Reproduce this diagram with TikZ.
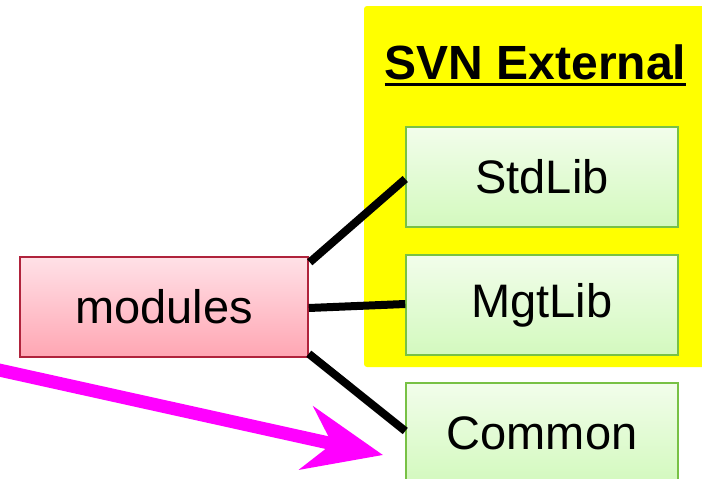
\documentclass[tikz,border=0pt]{standalone}
\usepackage{fontspec}
\setmainfont{Liberation Sans}
\usetikzlibrary{arrows.meta,calc}
\definecolor{extyellow}{HTML}{FFFF00}
\definecolor{libtop}{HTML}{F2FDEB}
\definecolor{libbottom}{HTML}{D3F9BE}
\definecolor{libborder}{HTML}{78C145}
\definecolor{modtop}{HTML}{FFE1E7}
\definecolor{modbottom}{HTML}{FFA6B3}
\definecolor{modborder}{HTML}{B0233C}
\definecolor{pointer}{HTML}{FF00FF}
\tikzset{
  box/.style={rectangle, minimum width=272pt, minimum height=100pt, inner sep=0pt,
    line width=1.5pt, font=\fontsize{47}{50}\selectfont},
  libbox/.style={box, draw=libborder, top color=libtop, bottom color=libbottom},
  modbox/.style={box, minimum width=288pt, draw=modborder, top color=modtop, bottom color=modbottom},
  link/.style={line width=8pt, black},
  pointerarrow/.style={line width=13pt, pointer,
    -{Stealth[length=78pt, width=64pt, inset=26pt]}}
}
\begin{document}
\begin{tikzpicture}[x=1pt, y=-1pt]
  \useasboundingbox (0,0) rectangle (702,479);
  % external area
  \fill[extyellow, rounded corners=3pt] (364,6) rectangle (720,367);
  \node[anchor=base, inner sep=0pt, font=\fontsize{48}{50}\selectfont\bfseries] (title) at (535.5,79) {SVN External};
  \draw[line width=3pt] ($(title.base west)+(0,5.5)$) -- ($(title.base east)+(0,5.5)$);
  % boxes
  \node[libbox] (std) at (542,177) {StdLib};
  \node[libbox] (mgt) at (542,305) {MgtLib};
  \node[libbox] (common) at (542,433) {Common};
  \node[modbox] (modules) at (164,307) {modules};
  % links
  \draw[link] ($(modules.north east)+(1,6)$) -- ($(std.west)+(0,2)$);
  \draw[link] ($(modules.east)+(0,1)$) -- ($(mgt.west)+(0,-1)$);
  \draw[link] ($(modules.south east)+(0,-4)$) -- ($(common.west)+(0,-2)$);
  % pointer
  \coordinate (from) at (-10,368);
  \coordinate (to) at (383,455);
  \draw[pointerarrow] (from) -- (to);
\end{tikzpicture}
\end{document}
